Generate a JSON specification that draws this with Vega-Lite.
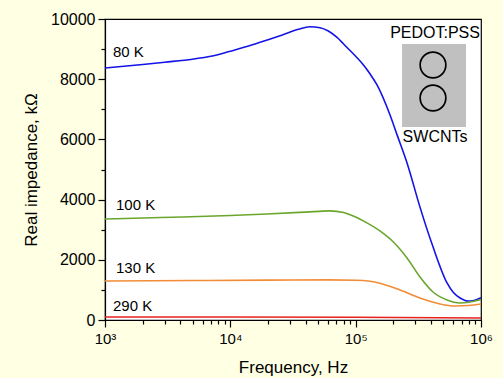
{
  "$schema": "https://vega.github.io/schema/vega-lite/v6.json",
  "autosize": {"type": "none"},
  "width": 376,
  "height": 301,
  "padding": {"left": 105, "top": 19, "right": 22, "bottom": 58},
  "background": "#FFFFE3",
  "config": {
    "font": "Liberation Sans",
    "view": {"stroke": "#000000", "strokeWidth": 1.2, "fill": "#FFFFFF"},
    "axis": {
      "grid": false,
      "domainColor": "#000000",
      "domainWidth": 1.2,
      "tickColor": "#000000",
      "tickWidth": 1.2,
      "labelColor": "#000000",
      "titleColor": "#000000",
      "labelFont": "Liberation Sans",
      "titleFont": "Liberation Sans",
      "titleFontWeight": "normal",
      "labelOverlap": false,
      "labelFlush": false
    }
  },
  "resolve": {"axis": {"x": "independent", "y": "independent"}},
  "datasets": {
    "curves": [
      {"f": 1000, "z": 8370, "T": "80 K"},
      {"f": 2000, "z": 8490, "T": "80 K"},
      {"f": 3000, "z": 8565, "T": "80 K"},
      {"f": 5000, "z": 8665, "T": "80 K"},
      {"f": 7000, "z": 8760, "T": "80 K"},
      {"f": 10000, "z": 8930, "T": "80 K"},
      {"f": 14000, "z": 9100, "T": "80 K"},
      {"f": 20000, "z": 9310, "T": "80 K"},
      {"f": 26000, "z": 9470, "T": "80 K"},
      {"f": 35000, "z": 9660, "T": "80 K"},
      {"f": 43000, "z": 9745, "T": "80 K"},
      {"f": 52000, "z": 9710, "T": "80 K"},
      {"f": 60000, "z": 9610, "T": "80 K"},
      {"f": 71000, "z": 9390, "T": "80 K"},
      {"f": 85000, "z": 9060, "T": "80 K"},
      {"f": 100000, "z": 8760, "T": "80 K"},
      {"f": 115000, "z": 8480, "T": "80 K"},
      {"f": 130000, "z": 8180, "T": "80 K"},
      {"f": 148000, "z": 7810, "T": "80 K"},
      {"f": 188000, "z": 6810, "T": "80 K"},
      {"f": 214000, "z": 6150, "T": "80 K"},
      {"f": 257000, "z": 5220, "T": "80 K"},
      {"f": 326000, "z": 3750, "T": "80 K"},
      {"f": 414000, "z": 2430, "T": "80 K"},
      {"f": 536000, "z": 1230, "T": "80 K"},
      {"f": 600000, "z": 920, "T": "80 K"},
      {"f": 681000, "z": 730, "T": "80 K"},
      {"f": 788000, "z": 630, "T": "80 K"},
      {"f": 880000, "z": 650, "T": "80 K"},
      {"f": 1000000, "z": 740, "T": "80 K"},
      {"f": 1000, "z": 3355, "T": "100 K"},
      {"f": 2000, "z": 3390, "T": "100 K"},
      {"f": 4190, "z": 3420, "T": "100 K"},
      {"f": 10000, "z": 3470, "T": "100 K"},
      {"f": 19600, "z": 3522, "T": "100 K"},
      {"f": 40000, "z": 3585, "T": "100 K"},
      {"f": 62000, "z": 3625, "T": "100 K"},
      {"f": 80000, "z": 3570, "T": "100 K"},
      {"f": 100000, "z": 3420, "T": "100 K"},
      {"f": 120000, "z": 3250, "T": "100 K"},
      {"f": 156000, "z": 2960, "T": "100 K"},
      {"f": 199000, "z": 2600, "T": "100 K"},
      {"f": 257000, "z": 2060, "T": "100 K"},
      {"f": 326000, "z": 1429, "T": "100 K"},
      {"f": 414000, "z": 930, "T": "100 K"},
      {"f": 536000, "z": 664, "T": "100 K"},
      {"f": 681000, "z": 565, "T": "100 K"},
      {"f": 800000, "z": 590, "T": "100 K"},
      {"f": 1000000, "z": 680, "T": "100 K"},
      {"f": 1000, "z": 1296, "T": "130 K"},
      {"f": 5000, "z": 1310, "T": "130 K"},
      {"f": 20000, "z": 1325, "T": "130 K"},
      {"f": 60000, "z": 1332, "T": "130 K"},
      {"f": 100000, "z": 1322, "T": "130 K"},
      {"f": 130000, "z": 1285, "T": "130 K"},
      {"f": 156000, "z": 1220, "T": "130 K"},
      {"f": 226000, "z": 997, "T": "130 K"},
      {"f": 326000, "z": 731, "T": "130 K"},
      {"f": 471000, "z": 532, "T": "130 K"},
      {"f": 621000, "z": 465, "T": "130 K"},
      {"f": 800000, "z": 480, "T": "130 K"},
      {"f": 1000000, "z": 532, "T": "130 K"},
      {"f": 1000, "z": 100, "T": "290 K"},
      {"f": 10000, "z": 100, "T": "290 K"},
      {"f": 100000, "z": 92, "T": "290 K"},
      {"f": 1000000, "z": 66, "T": "290 K"}
    ],
    "labels": [
      {"f": 1158, "z": 8904, "text": "80 K"},
      {"f": 1224, "z": 3821, "text": "100 K"},
      {"f": 1224, "z": 1728, "text": "130 K"},
      {"f": 1158, "z": 465, "text": "290 K"}
    ],
    "insetText": [
      {"f": 430000, "z": 9535, "text": "PEDOT:PSS"},
      {"f": 430000, "z": 6080, "text": "SWCNTs"}
    ],
    "insetRect": [
      {"f1": 234500, "f2": 759000, "z1": 9169, "z2": 6412}
    ],
    "insetCircles": [
      {"f": 414000, "z": 8472},
      {"f": 414000, "z": 7375}
    ]
  },
  "layer": [
    {
      "data": {"name": "insetRect"},
      "mark": {"type": "rect", "color": "#C0C0C0"},
      "encoding": {
        "x": {
          "field": "f1", "type": "quantitative",
          "scale": {"type": "log", "domain": [1000, 1000000], "nice": false},
          "axis": {
            "orient": "bottom", "title": null, "labels": false, "domain": false, "ticks": true, "tickSize": 4,
            "values": [2000, 3000, 4000, 5000, 6000, 7000, 8000, 9000, 20000, 30000, 40000, 50000, 60000, 70000, 80000, 90000, 200000, 300000, 400000, 500000, 600000, 700000, 800000, 900000]
          }
        },
        "x2": {"field": "f2"},
        "y": {
          "field": "z1", "type": "quantitative",
          "scale": {"domain": [0, 10000], "nice": false},
          "axis": {
            "orient": "left", "title": null, "labels": false, "domain": false, "ticks": true, "tickSize": 4,
            "values": [1000, 3000, 5000, 7000, 9000]
          }
        },
        "y2": {"field": "z2"}
      }
    },
    {
      "data": {"name": "insetCircles"},
      "mark": {"type": "point", "shape": "circle", "size": 660, "filled": false, "stroke": "#000000", "strokeWidth": 1.7, "opacity": 1},
      "encoding": {
        "x": {"field": "f", "type": "quantitative", "axis": null},
        "y": {"field": "z", "type": "quantitative", "axis": null}
      }
    },
    {
      "data": {"name": "curves"},
      "mark": {"type": "line", "interpolate": "monotone", "strokeWidth": 1.6},
      "encoding": {
        "x": {
          "field": "f", "type": "quantitative",
          "axis": {
            "orient": "bottom",
            "title": "Frequency, Hz",
            "titleFontSize": 17,
            "titlePadding": 13,
            "labelFontSize": 15,
            "labelPadding": 4,
            "tickSize": 7,
            "values": [1000, 10000, 100000, 1000000],
            "labelExpr": "datum.value == 1000 ? '10³' : datum.value == 10000 ? '10⁴' : datum.value == 100000 ? '10⁵' : '10⁶'"
          }
        },
        "y": {
          "field": "z", "type": "quantitative",
          "axis": {
            "orient": "left",
            "title": "Real impedance, kΩ",
            "titleFontSize": 17,
            "titlePadding": 10,
            "labelFontSize": 16,
            "labelPadding": 3,
            "tickSize": 7,
            "format": "d",
            "values": [0, 2000, 4000, 6000, 8000, 10000]
          }
        },
        "color": {
          "field": "T", "type": "nominal", "legend": null,
          "scale": {"domain": ["80 K", "100 K", "130 K", "290 K"], "range": ["#1414E6", "#6AA62E", "#F28C36", "#E8231F"]}
        },
        "strokeWidth": {
          "field": "T", "type": "nominal", "legend": null,
          "scale": {"domain": ["80 K", "100 K", "130 K", "290 K"], "range": [1.8, 1.6, 1.6, 2.2]}
        }
      }
    },
    {
      "data": {"name": "labels"},
      "mark": {"type": "text", "align": "left", "baseline": "middle", "fontSize": 15, "font": "Liberation Sans", "color": "#000000"},
      "encoding": {
        "x": {"field": "f", "type": "quantitative", "axis": null},
        "y": {"field": "z", "type": "quantitative", "axis": null},
        "text": {"field": "text"}
      }
    },
    {
      "data": {"name": "insetText"},
      "mark": {"type": "text", "align": "center", "baseline": "middle", "fontSize": 16, "font": "Liberation Sans", "color": "#000000"},
      "encoding": {
        "x": {"field": "f", "type": "quantitative", "axis": null},
        "y": {"field": "z", "type": "quantitative", "axis": null},
        "text": {"field": "text"}
      }
    }
  ]
}
